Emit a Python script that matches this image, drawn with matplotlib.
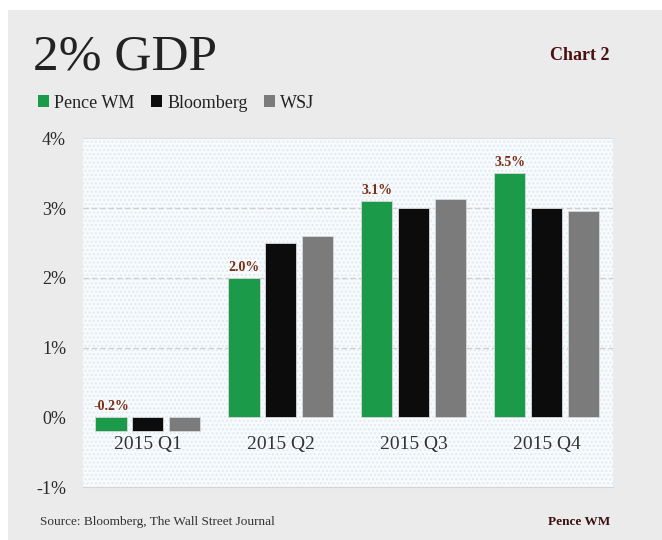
import matplotlib.pyplot as plt
from matplotlib.patches import Rectangle
import numpy as np

quarters = ['2015 Q1', '2015 Q2', '2015 Q3', '2015 Q4']
pence = [-0.2, 2.0, 3.1, 3.5]
bloomberg = [-0.2, 2.5, 3.0, 3.0]
wsj = [-0.2, 2.6, 3.13, 2.95]
series_names = ['Pence WM', 'Bloomberg', 'WSJ']
y_ticks = [-1, 0, 1, 2, 3, 4]

plt.rcParams['font.family'] = 'Liberation Serif'

fig = plt.figure(figsize=(6.62, 5.40), dpi=100)
fig.patch.set_facecolor('white')
fig.patches.append(Rectangle((8 / 662, 0), 1, 530 / 540, transform=fig.transFigure,
                             facecolor='#ebebeb', edgecolor='none', zorder=-10))

ax = fig.add_axes([0.125, 0.098, 0.801, 0.646])
ax.set_facecolor('#f8fbfd')
ax.patch.set_hatch('....')
ax.patch.set_edgecolor('#e1eaf1')
ax.patch.set_linewidth(0)

x = np.arange(len(quarters))
pitch = 0.277
width = 0.235
colors = ['#1b9a4a', '#0c0c0c', '#7b7b7b']
for i, vals in enumerate([pence, bloomberg, wsj]):
    ax.bar(x + (i - 1) * pitch, vals, width=width, color=colors[i],
           edgecolor='#d8d8d8', linewidth=0.6, zorder=3, label=series_names[i])

for xi, v in zip(x, pence):
    ax.text(xi - pitch, max(v, 0) + 0.06, '{:.1f}%'.format(v), ha='center', va='bottom',
            fontsize=10, fontweight='bold', color='#7a2e12', zorder=4)

for xi, q in zip(x, quarters):
    ax.text(xi, -0.27, q, ha='center', va='top', fontsize=14, color='#333333', zorder=4)

ax.set_xlim(-0.49, 3.5)
ax.set_ylim(-1, 4)
ax.set_yticks(y_ticks)
ax.set_yticklabels(['{}%'.format(t) for t in y_ticks], fontsize=13, color='#2a2a2a')
ax.set_xticks([])
ax.tick_params(axis='y', length=0, pad=12)
for t in [1, 2, 3]:
    ax.axhline(t, color='#cfcfcf', linewidth=1.0, linestyle=(0, (4, 2)), zorder=1)
for s in ['right', 'left']:
    ax.spines[s].set_visible(False)
ax.spines['bottom'].set_color('#d5d5d5')
ax.spines['top'].set_color('#dddddd')

fig.text(33 / 662, 1 - 57 / 540, '2% GDP', fontsize=37, color='#222222', va='center', ha='left')
fig.text(610 / 662, 1 - 55 / 540, 'Chart 2', fontsize=13, fontweight='bold', color='#4a1010',
         va='center', ha='right')

handles, labels = ax.get_legend_handles_labels()
leg = fig.legend(handles, labels, loc='center left', bbox_to_anchor=(22 / 662, 1 - 103 / 540),
                 ncol=3, frameon=False, fontsize=13, handlelength=0.6, handleheight=0.6,
                 handletextpad=0.3, columnspacing=0.9, labelcolor='#222222')
for h in leg.legend_handles:
    h.set_edgecolor('none')

fig.text(40 / 662, 1 - 522 / 540, 'Source: Bloomberg, The Wall Street Journal', fontsize=9.5,
         color='#333333', va='center', ha='left')
fig.text(610 / 662, 1 - 522 / 540, 'Pence WM', fontsize=9.5, fontweight='bold', color='#3a0f0f',
         va='center', ha='right')

fig.savefig('out.png', dpi=100)
